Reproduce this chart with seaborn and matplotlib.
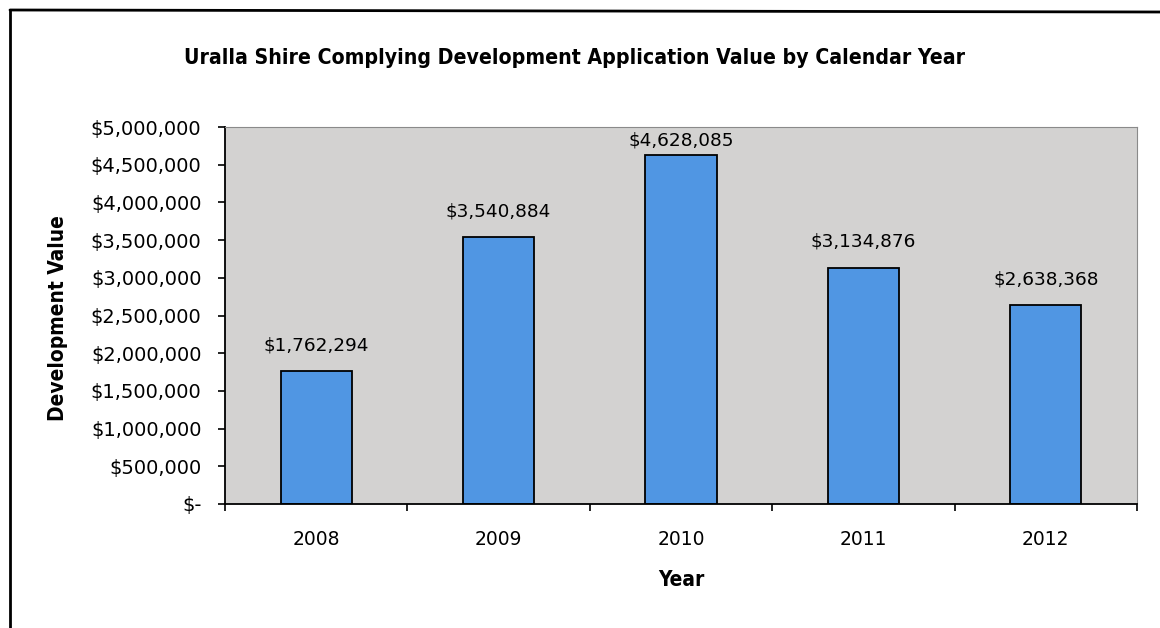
import matplotlib
matplotlib.use("Agg")
import matplotlib.pyplot as plt
import matplotlib.ticker as mticker
from matplotlib.lines import Line2D
import seaborn as sns
import pandas as pd

years = ["2008", "2009", "2010", "2011", "2012"]
values = [1762294, 3540884, 4628085, 3134876, 2638368]
y_ticks = [0, 500000, 1000000, 1500000, 2000000, 2500000, 3000000, 3500000, 4000000, 4500000, 5000000]
title = "Uralla Shire Complying Development Application Value by Calendar Year"
x_label = "Year"
y_label = "Development Value"

sns.set_style("white")
plt.rcParams["font.family"] = ["DejaVu Sans"]
plt.rcParams["text.color"] = "black"
plt.rcParams["xtick.color"] = "black"
plt.rcParams["ytick.color"] = "black"
plt.rcParams["axes.labelcolor"] = "black"

df = pd.DataFrame({"Year": years, "Value": values})

W, H, DPI = 11.6, 6.28, 100
fig = plt.figure(figsize=(W, H), dpi=DPI)
ax = fig.add_axes([225 / 1160, (628 - 504) / 628, (1137 - 225) / 1160, (504 - 127) / 628])
ax.set_facecolor("#d3d2d1")

sns.barplot(data=df, x="Year", y="Value", color="#5096e3", edgecolor="black",
            linewidth=1.3, width=0.39, ax=ax, saturation=1)

ymax = 5000000
ax.set_ylim(0, ymax)
ax.set_xlim(-0.5, 4.5)
ax.set_yticks(y_ticks)

def fmt(v, pos=None):
    if v == 0:
        return "$-"
    return "${:,.0f}".format(v)

ax.yaxis.set_major_formatter(mticker.FuncFormatter(fmt))
ax.tick_params(axis="y", which="major", direction="out", length=5, width=1.2,
               color="black", labelsize=14, pad=12, left=True)
ax.tick_params(axis="x", which="major", length=0, labelsize=13.5, pad=18.5)
ax.set_xticks([i - 0.5 for i in range(len(years) + 1)], minor=True)
ax.tick_params(axis="x", which="minor", direction="out", length=5, width=1.2,
               color="black", bottom=True)

for s in ["left", "bottom"]:
    ax.spines[s].set_color("black")
    ax.spines[s].set_linewidth(1.3)
for s in ["top", "right"]:
    ax.spines[s].set_color("#8a8a8a")
    ax.spines[s].set_linewidth(0.8)

# data labels: centred ~26px above the bar, kept inside the plot area
ax_h_px = ax.get_position().height * H * DPI
px_per_val = ax_h_px / ymax
for i, v in enumerate(values):
    space_px = (ymax - v) * px_per_val
    off_px = min(26, space_px - 13)
    ax.annotate("${:,.0f}".format(v), xy=(i, v), xytext=(0, off_px * 72 / DPI),
                textcoords="offset points", ha="center", va="center", fontsize=13.3)

ax.set_xlabel("")
ax.set_ylabel("")
fig.text(681 / 1160, 1 - 580 / 628, x_label, ha="center", va="center",
         fontsize=15, fontweight="bold", fontstretch="condensed")
fig.text(58 / 1160, 1 - 318 / 628, y_label, ha="center", va="center",
         rotation=90, fontsize=15, fontweight="bold", fontstretch="condensed")
fig.text(574 / 1160, 1 - 58 / 628, title, ha="center", va="center",
         fontsize=15.2, fontweight="bold", fontstretch="condensed")

# outer chart border (left and top visible)
fig.add_artist(Line2D([10 / 1160, 10 / 1160], [0, 1 - 10 / 628], color="black", lw=2,
                      transform=fig.transFigure))
fig.add_artist(Line2D([10 / 1160, 1], [1 - 10 / 628, 1 - 12 / 628], color="black", lw=2,
                      transform=fig.transFigure))

fig.savefig("out.png", dpi=DPI, facecolor="white")
